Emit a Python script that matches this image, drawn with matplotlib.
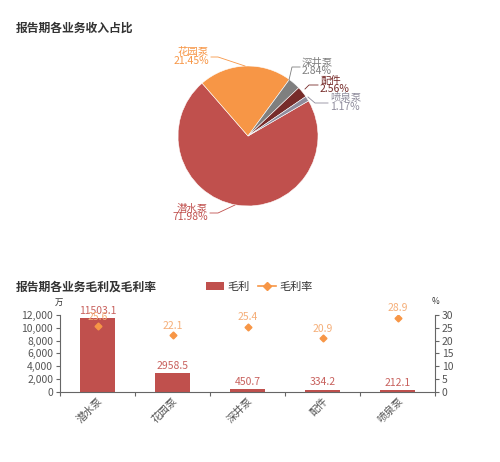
import matplotlib
matplotlib.use("Agg")
import matplotlib.pyplot as plt
import numpy as np
from matplotlib.patches import Patch
from matplotlib.lines import Line2D
from matplotlib.ticker import FuncFormatter

plt.rcParams["font.family"] = ["Noto Sans CJK SC", "DejaVu Sans"]

# ---------------------------------------------------------------------------
# Data
# ---------------------------------------------------------------------------
segments = ["潜水泵", "花园泵", "深井泵", "配件", "喷泉泵"]
revenue_share = [71.98, 21.45, 2.84, 2.56, 1.17]
pie_colors = ["#c0504d", "#f79646", "#7f7f7f", "#772c2a", "#8f8c9c"]

gross_profit = [11503.1, 2958.5, 450.7, 334.2, 212.1]
gross_margin = [25.6, 22.1, 25.4, 20.9, 28.9]

W, H = 500, 462
fig = plt.figure(figsize=(W / 100, H / 100), dpi=100)
fig.patch.set_facecolor("white")

TITLE_C = "#333333"
AX_C = "#666666"

fig.text(16 / W, 1 - 28 / H, "报告期各业务收入占比", fontsize=8.5, fontweight="bold",
         color=TITLE_C, va="center", ha="left")
fig.text(16 / W, 1 - 287 / H, "报告期各业务毛利及毛利率", fontsize=8.5, fontweight="bold",
         color=TITLE_C, va="center", ha="left")

# ---------------------------------------------------------------------------
# Pie
# ---------------------------------------------------------------------------
CX, CY, R = 248, 136, 70
side = 200
ax_pie = fig.add_axes([(CX - side / 2) / W, 1 - (CY + side / 2) / H, side / W, side / H])
lim = side / 2 / R
ax_pie.set_aspect("equal")
ax_pie.axis("off")

# boundary between 潜水泵 and 花园泵 sits at 131 deg; slices run clockwise
start = (131 + 360 * revenue_share[0] / 100) % 360
ax_pie.pie(revenue_share, colors=pie_colors, startangle=start,
           counterclock=False, radius=1,
           wedgeprops=dict(edgecolor="white", linewidth=0.4))
ax_pie.set_xlim(-lim, lim)
ax_pie.set_ylim(-lim, lim)


def p2d(px, py):
    return (px - CX) / R, (CY - py) / R


# label layout in image pixels: edge point, elbow, line end, text anchor x, alignment
layout = {
    "潜水泵": ((235, 205), (218, 213), (210, 213), 208, "right"),
    "花园泵": ((245, 66), (218, 57), (211, 57), 209, "right"),
    "深井泵": ((289, 80), (292, 67), (300, 67), 302, "left"),
    "配件": ((305, 89), (309, 85), (318, 85), 320, "left"),
    "喷泉泵": ((308, 97), (315, 103), (328, 103), 330, "left"),
}
for name, share, col in zip(segments, revenue_share, pie_colors):
    e, k, t, tx, ha = layout[name]
    pts = [p2d(*e), p2d(*k), p2d(*t)]
    ax_pie.plot([p[0] for p in pts], [p[1] for p in pts], color=col, lw=0.6,
                clip_on=False)
    ty = t[1]
    x_d, _ = p2d(tx, ty)
    ax_pie.text(x_d, p2d(tx, ty - 4.5)[1], name, color=col, fontsize=7.5,
                ha=ha, va="center", clip_on=False)
    ax_pie.text(x_d, p2d(tx, ty + 4.5)[1], f"{share:.2f}%", color=col, fontsize=7.5,
                ha=ha, va="center", clip_on=False)

# ---------------------------------------------------------------------------
# Bar + margin
# ---------------------------------------------------------------------------
L, Rt, T, B = 60, 435, 315, 391.7
ax = fig.add_axes([L / W, 1 - B / H, (Rt - L) / W, (B - T) / H])
x = np.arange(len(segments))
ax.bar(x, gross_profit, width=0.47, color="#c0504d", zorder=2)
ax.set_xlim(-0.5, len(segments) - 0.5)
ax.set_ylim(0, 12000)
ax.set_yticks(np.arange(0, 12001, 2000))
ax.yaxis.set_major_formatter(FuncFormatter(lambda v, _: f"{int(v):,}"))
ax.set_xticks(np.arange(-0.5, len(segments), 1), minor=False)
ax.set_xticklabels([])
ax.set_xticks(x, minor=True)
ax.set_xticklabels(segments, minor=True, rotation=45, ha="right", va="top",
                   fontsize=7.5, color="#555555", rotation_mode="anchor")
ax.tick_params(axis="x", which="minor", length=0, pad=3)
ax.tick_params(axis="x", which="major", length=3, color=AX_C)
ax.tick_params(axis="y", labelsize=7.5, labelcolor="#555555", length=3, color=AX_C, pad=2)
for s in ["top", "right"]:
    ax.spines[s].set_visible(False)
for s in ["left", "bottom"]:
    ax.spines[s].set_color(AX_C)
    ax.spines[s].set_linewidth(0.8)

for xi, v in zip(x, gross_profit):
    ax.text(xi, v + 350, f"{v:.1f}", ha="center", va="bottom", fontsize=7.5,
            color="#c8615d", zorder=4)

ax2 = ax.twinx()
ax2.set_ylim(0, 30)
ax2.set_yticks(np.arange(0, 31, 5))
ax2.plot(x, gross_margin, linestyle="none", marker="D", markersize=3.5,
         color="#f79646", zorder=3)
for xi, v in zip(x, gross_margin):
    ax2.text(xi, v + 1.8, f"{v:.1f}", ha="center", va="bottom", fontsize=7.5,
             color="#f5ae78", zorder=4)
ax2.tick_params(axis="y", labelsize=7.5, labelcolor="#555555", length=3, color=AX_C, pad=2)
for s in ["top", "left", "bottom"]:
    ax2.spines[s].set_visible(False)
ax2.spines["right"].set_color(AX_C)
ax2.spines["right"].set_linewidth(0.8)

fig.text(59 / W, 1 - 302 / H, "万", fontsize=6, color="#333333", ha="center", va="center")
fig.text(435 / W, 1 - 302 / H, "%", fontsize=6, color="#333333", ha="center", va="center")

handles = [Patch(facecolor="#c0504d", edgecolor="none"),
           Line2D([0], [0], color="#f79646", marker="D", markersize=4, lw=1.2)]
fig.legend(handles, ["毛利", "毛利率"], loc="center left",
           bbox_to_anchor=(196 / W, 1 - 287 / H), ncol=2, frameon=False,
           fontsize=8, handlelength=1.6, handletextpad=0.3, columnspacing=0.8,
           labelcolor="#333333")

fig.savefig("out.png", dpi=100)
